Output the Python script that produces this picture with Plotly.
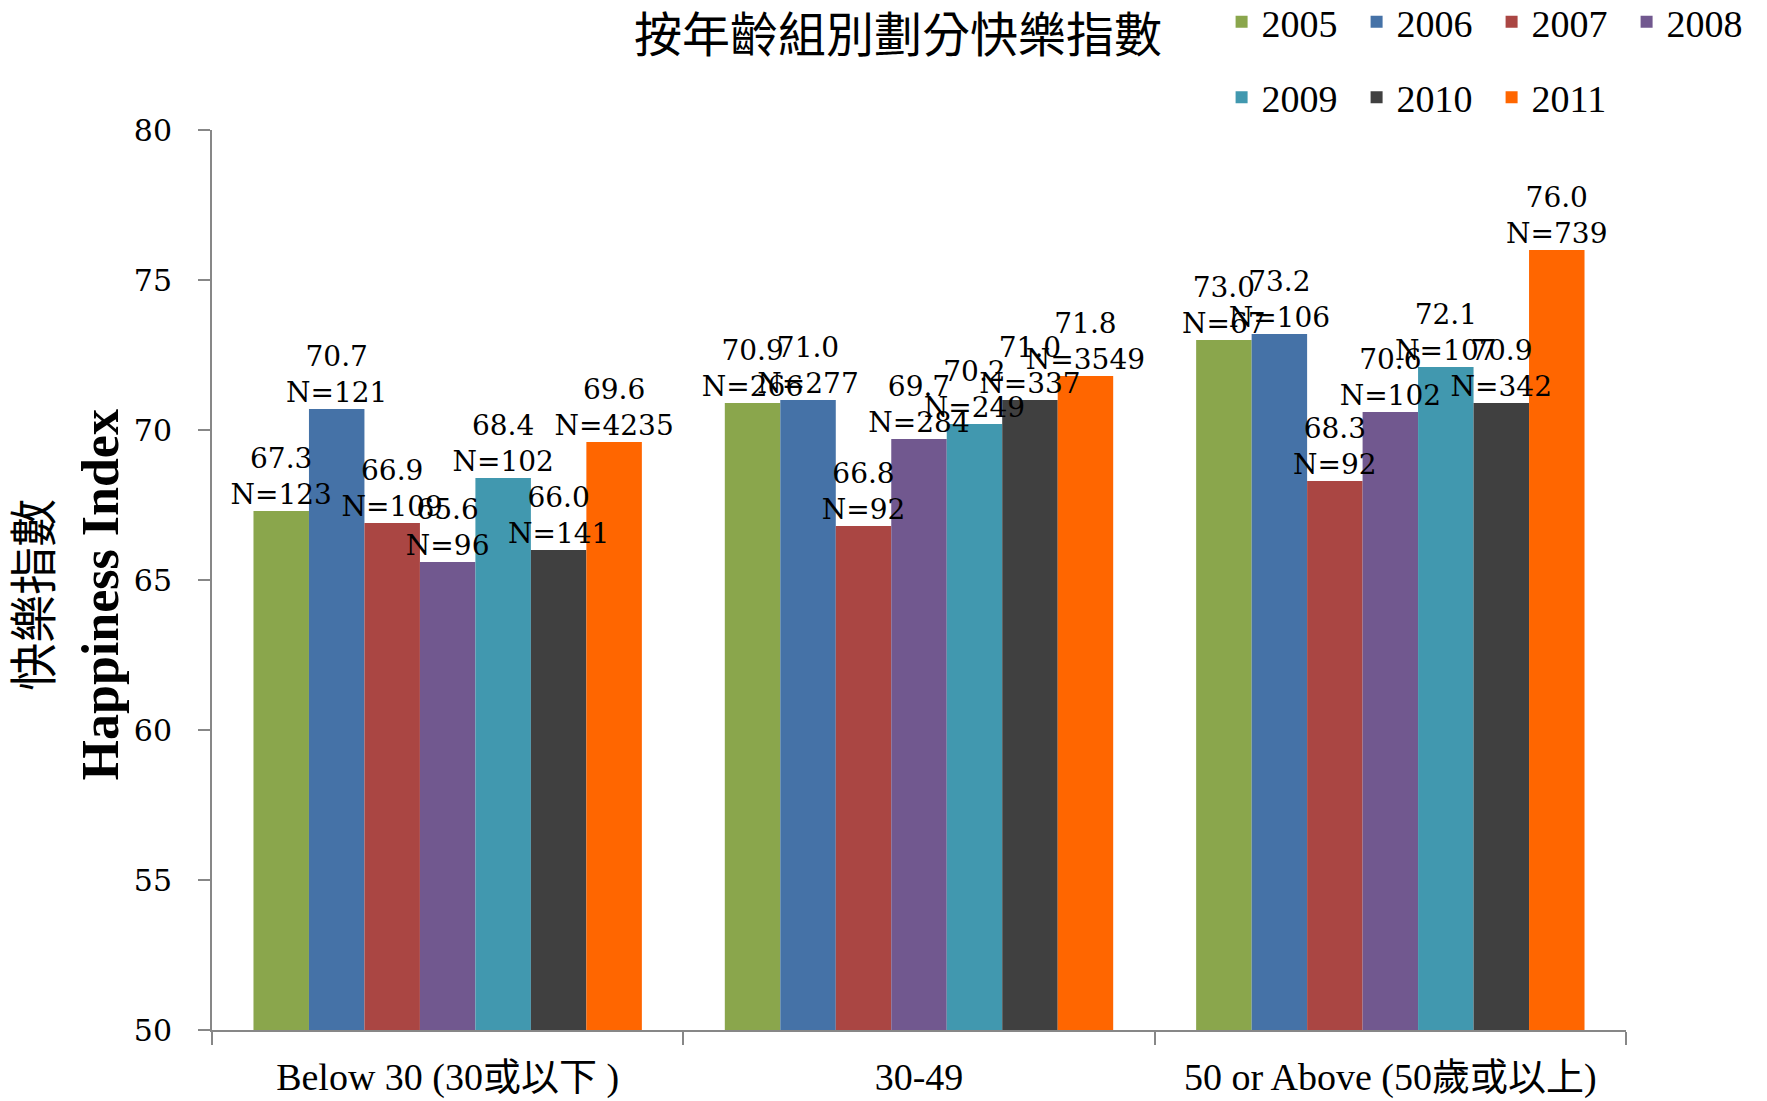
"""Happiness index by age group — grouped bars, one series per year."""

import plotly.graph_objects as go

AGE_GROUPS = ["Below 30 (30或以下 )", "30-49", "50 or Above (50歲或以上)"]
YEARS = ["2005", "2006", "2007", "2008", "2009", "2010", "2011"]

# happiness index per year, in AGE_GROUPS order
IDX_2005 = [67.3, 70.9, 73.0]
IDX_2006 = [70.7, 71.0, 73.2]
IDX_2007 = [66.9, 66.8, 68.3]
IDX_2008 = [65.6, 69.7, 70.6]
IDX_2009 = [68.4, 70.2, 72.1]
IDX_2010 = [66.0, 71.0, 70.9]
IDX_2011 = [69.6, 71.8, 76.0]

# sample sizes
N_2005 = [123, 266, 67]
N_2006 = [121, 277, 106]
N_2007 = [109, 92, 92]
N_2008 = [96, 284, 102]
N_2009 = [102, 249, 107]
N_2010 = [141, 337, 342]
N_2011 = [4235, 3549, 739]

COLORS = ["#8AA64C", "#4572A7", "#AA4643", "#71588F", "#4198AF", "#404040", "#FF6600"]

SERIES = list(zip(
    YEARS,
    [IDX_2005, IDX_2006, IDX_2007, IDX_2008, IDX_2009, IDX_2010, IDX_2011],
    [N_2005, N_2006, N_2007, N_2008, N_2009, N_2010, N_2011],
    COLORS,
))

SERIF = "Liberation Serif, Noto Sans CJK TC, serif"
LABEL_FONT = "DejaVu Serif, serif"
BARGAP = 0.176

fig = go.Figure()
for i, (year, vals, ns, color) in enumerate(SERIES):
    fig.add_trace(
        go.Bar(
            x=AGE_GROUPS,
            y=vals,
            name=year,
            marker=dict(color=color, line=dict(width=0)),
            # first four years in the top legend row, the rest below
            legend="legend" if i < 4 else "legend2",
        )
    )

# labels as grouped text-only scatters so they sit on top of every bar
for year, vals, ns, _ in SERIES:
    fig.add_trace(
        go.Scatter(
            x=AGE_GROUPS,
            y=vals,
            mode="text",
            text=[f"{v:.1f}<br>N={n}" for v, n in zip(vals, ns)],
            textposition="top center",
            textfont=dict(family=LABEL_FONT, size=28, color="black"),
            cliponaxis=False,
            showlegend=False,
            hoverinfo="skip",
            name=year,
        )
    )

legend_common = dict(
    orientation="h",
    xanchor="left",
    yanchor="middle",
    x=0.714,
    font=dict(family=SERIF, size=38, color="black"),
    entrywidth=90,
    entrywidthmode="pixels",
    bgcolor="rgba(0,0,0,0)",
)

# page body has an 8px margin, so the figure is drawn 8px smaller
fig.update_layout(
    width=1759,
    height=1093,
    margin=dict(l=204, r=141, t=122, b=71, autoexpand=False),
    paper_bgcolor="white",
    plot_bgcolor="white",
    barmode="group",
    bargap=BARGAP,
    bargroupgap=0,
    scattermode="group",
    scattergap=BARGAP,
    title=dict(
        text="按年齡組別劃分快樂指數",
        x=0.506,
        xref="container",
        xanchor="center",
        y=0.975,
        yanchor="middle",
        font=dict(family="Noto Sans CJK TC", size=48, color="black"),
    ),
    legend=dict(y=1.12, **legend_common),
    legend2=dict(y=1.036, **legend_common),
)

fig.add_annotation(
    text='<span style="font-size:48px">快樂指數</span><br><b>Happiness Index</b>',
    xref="paper",
    yref="paper",
    x=-0.101,
    y=0.483,
    xanchor="center",
    yanchor="middle",
    textangle=-90,
    showarrow=False,
    font=dict(family=SERIF, size=52, color="black"),
)

fig.update_yaxes(
    range=[50, 80],
    dtick=5,
    showgrid=False,
    zeroline=False,
    showline=True,
    linecolor="#878787",
    linewidth=2,
    ticks="outside",
    ticklen=12,
    tickwidth=2,
    tickcolor="#878787",
    ticklabelstandoff=20,
    tickfont=dict(family=LABEL_FONT, size=30, color="black"),
    automargin=False,
)

fig.update_xaxes(
    showgrid=False,
    showline=True,
    linecolor="#878787",
    linewidth=2,
    ticks="outside",
    tickson="boundaries",
    ticklen=13,
    tickwidth=2,
    tickcolor="#878787",
    ticklabelstandoff=12,
    automargin=False,
    tickfont=dict(family=SERIF, size=38, color="black"),
)

fig.write_html("out.html")
